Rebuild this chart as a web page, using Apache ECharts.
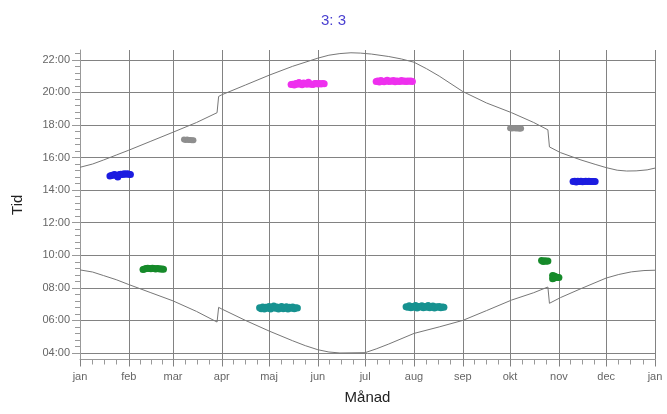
<!DOCTYPE html>
<html><head><meta charset="utf-8">
<script src="https://cdn.jsdelivr.net/npm/echarts@6/dist/echarts.min.js"></script>
<style>html,body{margin:0;padding:0;background:#fff}#c{width:667px;height:414px}</style>
</head><body><div id="c"></div>
<script>
// ---- data ----
const monthLabels = ['jan','feb','mar','apr','maj','jun','jul','aug','sep','okt','nov','dec','jan'];
const monthStarts = [0,31,59,90,120,151,181,212,243,273,304,334,365];
const hourTicks = [4,6,8,10,12,14,16,18,20,22];

// upper curve [day, hour]
const upperCurve = [[0,15.4],[8,15.6],[15,15.85],[23,16.15],[31,16.45],[45,17.0],[59,17.55],[74,18.15],[87,18.75],[88,19.75],[90,19.85],[105,20.45],[120,21.05],[135,21.6],[151,22.1],[158,22.28],[165,22.38],[172,22.43],[178,22.41],[185,22.35],[196,22.2],[204,22.05],[212,21.85],[220,21.45],[228,21.0],[243,20.05],[258,19.35],[274,18.75],[288,18.15],[297,17.7],[298,16.65],[305,16.3],[318,15.85],[327,15.58],[334,15.38],[341,15.22],[347,15.17],[353,15.18],[360,15.24],[365,15.35]];
// lower curve [day, hour]
const lowerCurve = [[0,9.1],[8,8.97],[15,8.75],[23,8.5],[31,8.2],[45,7.7],[59,7.2],[74,6.55],[87,5.9],[88,6.8],[90,6.7],[105,6.0],[120,5.35],[135,4.75],[143,4.45],[151,4.2],[158,4.06],[165,4.0],[181,4.02],[188,4.25],[196,4.55],[212,5.2],[228,5.6],[243,6.0],[258,6.6],[274,7.25],[288,7.7],[297,8.05],[298,7.05],[305,7.4],[318,7.95],[334,8.6],[342,8.82],[350,8.98],[358,9.06],[365,9.08]];

const blueFeb = [[19,14.86],[20,14.9],[21,14.92],[22,14.95],[23,14.9],[24,14.8],[25,14.95],[26,14.97],[27,14.95],[28,15.0],[29,14.98],[30,15.0],[31,14.97],[32,14.96]];
const greenFeb = [[40,9.13],[41,9.16],[42,9.18],[43,9.2],[44,9.18],[45,9.17],[46,9.2],[47,9.18],[48,9.16],[49,9.18],[50,9.17],[51,9.15],[52,9.16],[53,9.14]];
const grayMar = [[66,17.1],[67,17.08],[68,17.1],[69,17.07],[70,17.08],[71,17.06],[72,17.06]];
const tealMay = [[114,6.78],[115,6.72],[116,6.82],[117,6.7],[118,6.8],[119,6.75],[120,6.85],[121,6.7],[122,6.8],[123,6.88],[124,6.74],[125,6.82],[126,6.7],[127,6.8],[128,6.86],[129,6.72],[130,6.78],[131,6.84],[132,6.7],[133,6.8],[134,6.75],[135,6.82],[136,6.72],[137,6.78],[138,6.76]];
const magentaJun = [[134,20.48],[135,20.5],[136,20.45],[137,20.55],[138,20.5],[139,20.6],[140,20.52],[141,20.46],[142,20.58],[143,20.55],[144,20.5],[145,20.62],[146,20.52],[147,20.5],[148,20.48],[149,20.55],[150,20.54],[151,20.52],[152,20.55],[153,20.52],[154,20.54],[155,20.53]];
const magentaJul = [[188,20.66],[189,20.7],[190,20.64],[191,20.72],[192,20.68],[193,20.65],[194,20.7],[195,20.74],[196,20.66],[197,20.7],[198,20.68],[199,20.72],[200,20.65],[201,20.7],[202,20.68],[203,20.66],[204,20.72],[205,20.68],[206,20.7],[207,20.66],[208,20.7],[209,20.68],[210,20.7],[211,20.66]];
const tealAug = [[207,6.84],[208,6.8],[209,6.9],[210,6.78],[211,6.86],[212,6.8],[213,6.92],[214,6.76],[215,6.86],[216,6.82],[217,6.9],[218,6.78],[219,6.86],[220,6.8],[221,6.92],[222,6.78],[223,6.84],[224,6.88],[225,6.76],[226,6.84],[227,6.8],[228,6.86],[229,6.78],[230,6.82],[231,6.8]];
const grayOct = [[273,17.8],[274,17.78],[275,17.8],[276,17.79],[277,17.78],[278,17.8],[279,17.77],[280,17.78]];
const greenOct = [[293,9.68],[294,9.62],[295,9.66],[296,9.63],[297,9.64]];
const greenNov = [[300,8.76],[300,8.56],[301,8.72],[301,8.6],[302,8.68],[303,8.64],[304,8.63]];
const blueNov = [[313,14.52],[314,14.55],[315,14.5],[316,14.54],[317,14.52],[318,14.55],[319,14.51],[320,14.53],[321,14.55],[322,14.52],[323,14.54],[324,14.52],[325,14.53],[326,14.52],[327,14.53]];

// ---- chart ----
const minorX = [];
for (let i = 0; i < 12; i++) {
  const a = monthStarts[i], b = monthStarts[i + 1];
  for (let k = 1; k < 4; k++) minorX.push(a + (b - a) * k / 4);
}
const minorY = [];
for (let v = 40; v <= 224; v += 4) minorY.push(v / 10);

const FONT = 'Liberation Sans, Arial, sans-serif';
const gridColor = '#828282';
const labelColor = '#666';

function blob(name, data, color, size) {
  return {
    name, type: 'scatter', data, xAxisIndex: 0, yAxisIndex: 0,
    symbol: 'circle', symbolSize: size || 7,
    itemStyle: { color, opacity: 1 }, silent: true, z: 5
  };
}
function curve(name, data) {
  return {
    name, type: 'line', data, xAxisIndex: 0, yAxisIndex: 0,
    showSymbol: false, smooth: false, silent: true,
    lineStyle: { color: '#777', width: 1 }, z: 3
  };
}

const chart = echarts.init(document.getElementById('c'), null, { renderer: 'canvas' });
chart.setOption({
  animation: false,
  backgroundColor: '#fff',
  title: {
    text: '3: 3', left: 'center', top: 8,
    textStyle: { color: '#4a40d0', fontSize: 15, fontWeight: 'normal', fontFamily: FONT }
  },
  grid: { left: 80, right: 12, top: 50, bottom: 54.5, containLabel: false },
  xAxis: [{
    type: 'value', min: 0, max: 365, position: 'bottom',
    name: 'Månad', nameLocation: 'middle', nameGap: 31,
    nameTextStyle: { color: '#222', fontSize: 15, fontFamily: FONT },
    axisLine: { show: true, lineStyle: { color: '#999' } },
    axisTick: { show: true, length: 7, customValues: monthStarts, lineStyle: { color: gridColor } },
    axisLabel: {
      show: true, margin: 12, color: labelColor, fontSize: 11, fontFamily: FONT,
      customValues: monthStarts,
      formatter: v => monthLabels[monthStarts.indexOf(v)]
    },
    splitLine: { show: true, lineStyle: { color: gridColor, width: 1 } }
  }, {
    type: 'value', min: 0, max: 365, position: 'bottom',
    axisLine: { show: false }, axisLabel: { show: false }, splitLine: { show: false },
    axisTick: { show: true, length: 5, customValues: minorX, lineStyle: { color: '#999' } }
  }],
  yAxis: [{
    type: 'value', min: 3.6, max: 22.6, position: 'left',
    name: 'Tid', nameLocation: 'middle', nameGap: 55, nameRotate: 90,
    nameTextStyle: { color: '#222', fontSize: 15, fontFamily: FONT },
    axisLine: { show: true, lineStyle: { color: '#999' } },
    axisTick: { show: true, length: 8, customValues: hourTicks, lineStyle: { color: '#999' } },
    axisLabel: {
      show: true, margin: 10, color: labelColor, fontSize: 11, fontFamily: FONT,
      customValues: hourTicks,
      formatter: v => String(Math.round(v)).padStart(2, '0') + ':00'
    },
    splitLine: { show: true, lineStyle: { color: gridColor, width: 1 } }
  }, {
    type: 'value', min: 3.6, max: 22.6, position: 'left',
    axisLine: { show: false }, axisLabel: { show: false }, splitLine: { show: false },
    axisTick: { show: true, length: 5, customValues: minorY, lineStyle: { color: '#999' } }
  }],
  series: [
    curve('upper', upperCurve),
    curve('lower', lowerCurve),
    blob('blueFeb', blueFeb, '#1c1ce0'),
    blob('greenFeb', greenFeb, '#168a2a'),
    blob('grayMar', grayMar, '#8e8e8e', 6),
    blob('tealMay', tealMay, '#179290'),
    blob('magentaJun', magentaJun, '#ee30ee'),
    blob('magentaJul', magentaJul, '#ee30ee'),
    blob('tealAug', tealAug, '#179290'),
    blob('grayOct', grayOct, '#8e8e8e', 6),
    blob('greenOct', greenOct, '#168a2a'),
    blob('greenNov', greenNov, '#168a2a'),
    blob('blueNov', blueNov, '#1c1ce0')
  ]
});
</script>
</body></html>
